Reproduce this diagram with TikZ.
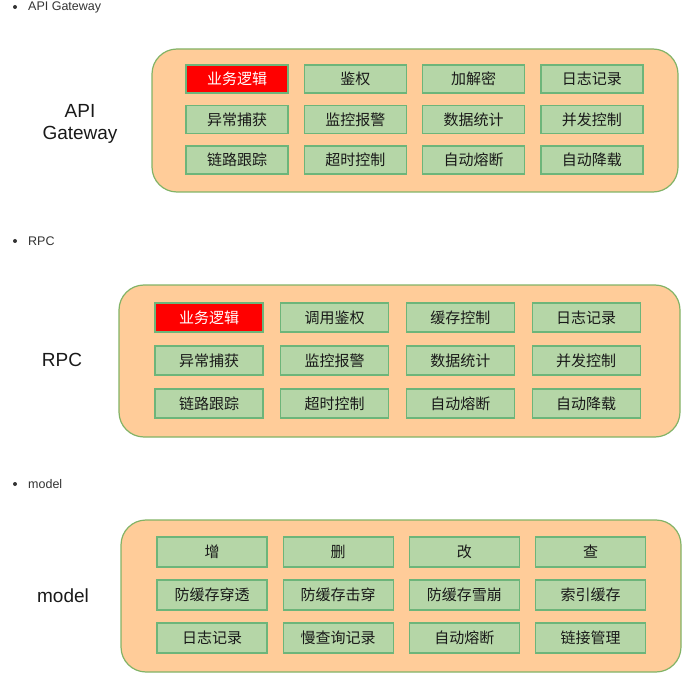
\documentclass[tikz,border=0pt]{standalone}
\usepackage{fontspec}
\setmainfont{Liberation Sans}
\newfontfamily\cjk{Noto Sans CJK SC}
\definecolor{outerfill}{HTML}{FFCC99}
\definecolor{outerline}{HTML}{82B366}
\definecolor{boxfill}{HTML}{B5D6A7}
\definecolor{boxline}{HTML}{6DB57A}
\definecolor{bullettext}{HTML}{333333}
\begin{document}
\begin{tikzpicture}[x=1pt,y=-1pt,
  outer/.style={draw=outerline,fill=outerfill,line width=1.2pt,rounded corners=25pt},
  cell/.style={draw=boxline,fill=boxfill,line width=1.2pt,font=\cjk\fontsize{15}{18}\selectfont,text=black!90,inner sep=0pt,anchor=center},
  hot/.style={cell,fill=red,text=white},
  biglabel/.style={font=\fontsize{19}{22}\selectfont,align=center,text=black!90},
  bullet/.style={font=\fontsize{12.5}{15}\selectfont,text=bullettext,anchor=west,inner sep=0pt}]
\useasboundingbox (0,0) rectangle (697,682);
% ---- section 1
\fill[bullettext] (15,7) circle (2);
\node[bullet] (b1) at (28,7) {API Gateway};
\draw[outer] (152,49) rectangle (678,192);
\node[biglabel] (l1) at (80,124) {API\\Gateway};
\foreach \t [count=\i] in {业务逻辑,鉴权,加解密,日志记录,异常捕获,监控报警,数据统计,并发控制,链路跟踪,超时控制,自动熔断,自动降载}{
  \pgfmathtruncatemacro\c{mod(\i-1,4)}
  \pgfmathtruncatemacro\r{div(\i-1,4)}
  \pgfmathsetmacro\xx{237+118.3*\c}
  \pgfmathsetmacro\yy{79+40.5*\r}
  \ifnum\i=1
    \node[hot,minimum width=102pt,minimum height=28pt] (a\i) at (\xx,\yy) {\t};
  \else
    \node[cell,minimum width=102pt,minimum height=28pt] (a\i) at (\xx,\yy) {\t};
  \fi
}
% ---- section 2
\fill[bullettext] (15,241) circle (2);
\node[bullet] (b2) at (28,241) {RPC};
\draw[outer] (119,285) rectangle (680,437);
\node[biglabel] (l2) at (62,360) {RPC};
\foreach \t [count=\i] in {业务逻辑,调用鉴权,缓存控制,日志记录,异常捕获,监控报警,数据统计,并发控制,链路跟踪,超时控制,自动熔断,自动降载}{
  \pgfmathtruncatemacro\c{mod(\i-1,4)}
  \pgfmathtruncatemacro\r{div(\i-1,4)}
  \pgfmathsetmacro\xx{209+125.7*\c}
  \pgfmathsetmacro\yy{317.5+43*\r}
  \ifnum\i=1
    \node[hot,minimum width=108pt,minimum height=29pt] (r\i) at (\xx,\yy) {\t};
  \else
    \node[cell,minimum width=108pt,minimum height=29pt] (r\i) at (\xx,\yy) {\t};
  \fi
}
% ---- section 3
\fill[bullettext] (15,484) circle (2);
\node[bullet] (b3) at (28,484) {model};
\draw[outer] (121,520) rectangle (681,672);
\node[biglabel] (l3) at (63,596) {model};
\foreach \t [count=\i] in {增,删,改,查,防缓存穿透,防缓存击穿,防缓存雪崩,索引缓存,日志记录,慢查询记录,自动熔断,链接管理}{
  \pgfmathtruncatemacro\c{mod(\i-1,4)}
  \pgfmathtruncatemacro\r{div(\i-1,4)}
  \pgfmathsetmacro\xx{212+126.2*\c}
  \pgfmathsetmacro\yy{552+43*\r}
  \node[cell,minimum width=110pt,minimum height=30pt] (m\i) at (\xx,\yy) {\t};
}
\end{tikzpicture}
\end{document}
